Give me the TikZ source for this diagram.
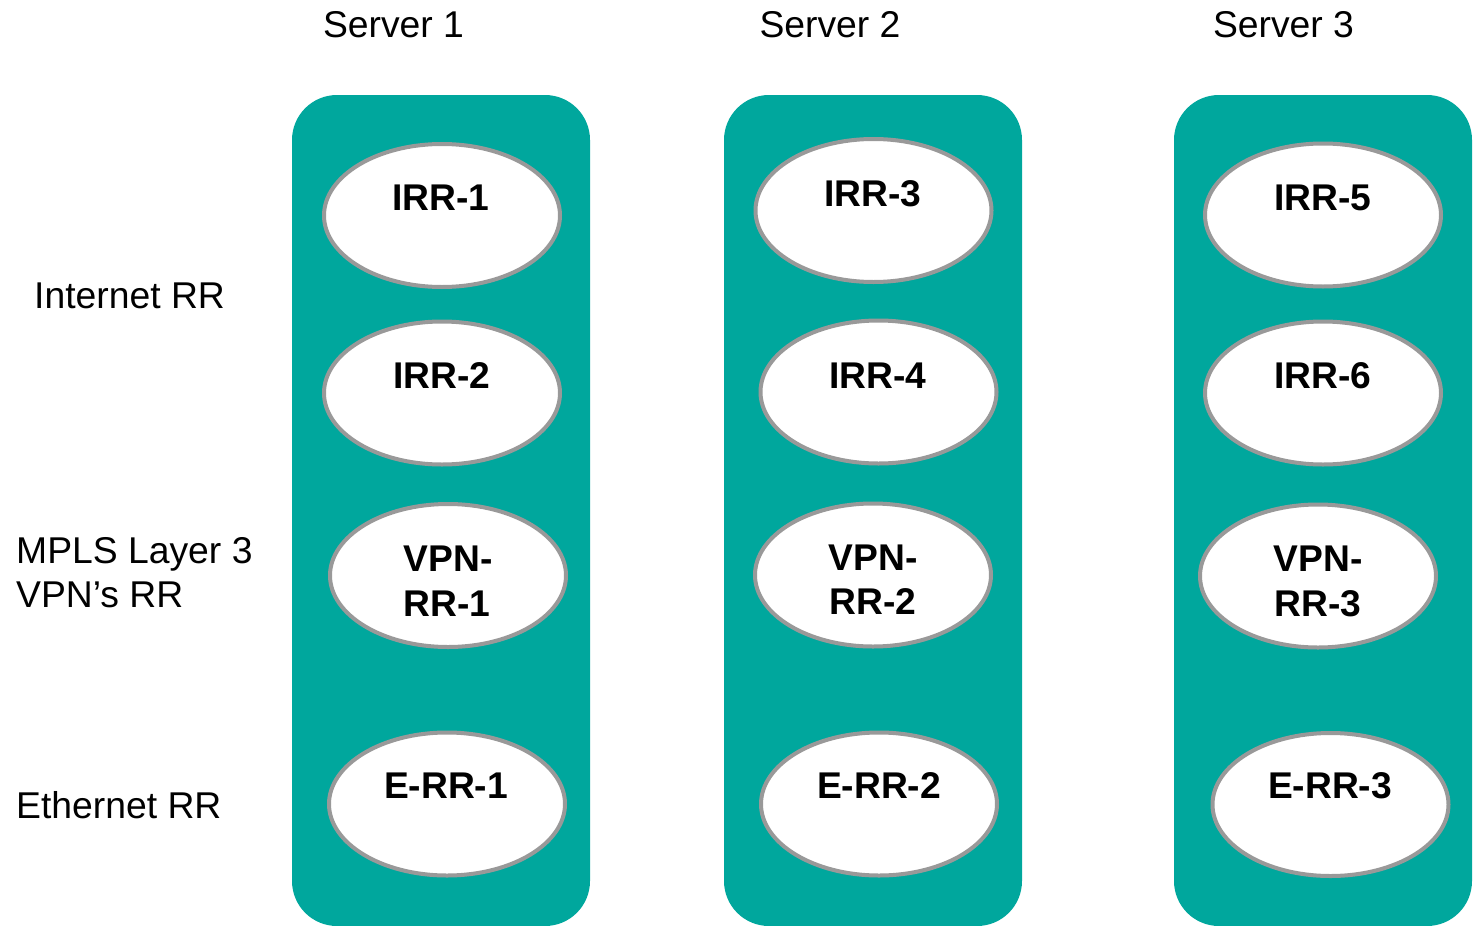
\documentclass[tikz,border=0pt]{standalone}
\usepackage{fontspec}
\setmainfont{Liberation Sans}
\usetikzlibrary{shapes.geometric}
\definecolor{teal1}{HTML}{00A79D}
\definecolor{rim}{HTML}{999999}
\tikzset{
  serverbox/.style={rectangle, rounded corners=45pt, fill=teal1, draw=none, minimum width=298pt, minimum height=831pt, inner sep=0pt},
  rrnode/.style={ellipse, fill=white, draw=rim, line width=4pt, minimum width=236pt, minimum height=143pt, inner sep=0pt},
  rrtext/.style={anchor=base, inner sep=0pt, font=\fontsize{37.2}{44}\selectfont\bfseries},
  plain/.style={anchor=base, inner sep=0pt, font=\fontsize{37.3}{44}\selectfont},
  sidelabel/.style={anchor=base west, inner sep=0pt, font=\fontsize{37.3}{44}\selectfont}
}
\begin{document}
\begin{tikzpicture}[x=1pt,y=-1pt]
\useasboundingbox (0,0) rectangle (1473,926);
% server boxes
\node[serverbox] (box1) at (441,510.5) {};
\node[serverbox] (box2) at (873,510.5) {};
\node[serverbox] (box3) at (1323,510.5) {};
% headers
\node[plain] (s1) at (393.5,37) {Server 1};
\node[plain] (s2) at (830,37) {Server 2};
\node[plain] (s3) at (1283.5,37) {Server 3};
% side labels
\node[sidelabel] (l1) at (34,308) {Internet RR};
\node[sidelabel] (l2a) at (16,563) {MPLS Layer 3};
\node[sidelabel] (l2b) at (16,607) {VPN’s RR};
\node[sidelabel] (l3) at (16,818) {Ethernet RR};
% column 1
\node[rrnode] (irr1) at (442,215.5) {};
\node[rrtext] (irr1t) at (441,210) {IRR-1};
\node[rrnode] (irr2) at (442,393) {};
\node[rrtext] (irr2t) at (442,388) {IRR-2};
\node[rrnode] (vpn1) at (448,575.5) {};
\node[rrtext] (vpn1a) at (448,571) {VPN-};
\node[rrtext] (vpn1b) at (447,616) {RR-1};
\node[rrnode] (err1) at (447,804) {};
\node[rrtext] (err1t) at (446,798) {E-RR-1};
% column 2
\node[rrnode] (irr3) at (873.5,210.5) {};
\node[rrtext] (irr3t) at (873,206) {IRR-3};
\node[rrnode] (irr4) at (878.5,392) {};
\node[rrtext] (irr4t) at (878,388) {IRR-4};
\node[rrnode] (vpn2) at (873,575) {};
\node[rrtext] (vpn2a) at (873,570) {VPN-};
\node[rrtext] (vpn2b) at (873,614) {RR-2};
\node[rrnode] (err2) at (879,804) {};
\node[rrtext] (err2t) at (879,798) {E-RR-2};
% column 3
\node[rrnode] (irr5) at (1323,215) {};
\node[rrtext] (irr5t) at (1323,210) {IRR-5};
\node[rrnode] (irr6) at (1323,393) {};
\node[rrtext] (irr6t) at (1323,388) {IRR-6};
\node[rrnode] (vpn3) at (1318,576) {};
\node[rrtext] (vpn3a) at (1318,571) {VPN-};
\node[rrtext] (vpn3b) at (1318,616) {RR-3};
\node[rrnode] (err3) at (1330.5,804.5) {};
\node[rrtext] (err3t) at (1330,798) {E-RR-3};
\end{tikzpicture}
\end{document}
